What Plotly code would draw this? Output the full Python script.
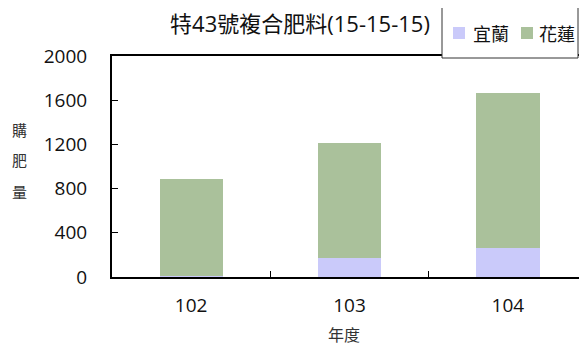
import plotly.graph_objects as go

years = ["102", "103", "104"]
yilan = [10, 176, 266]
hualien = [874, 1034, 1403]
y_ticks = [0, 400, 800, 1200, 1600, 2000]
y_title_chars = ["購", "肥", "量"]
series_names = ["宜蘭", "花蓮"]
series_colors = ["#cacafa", "#aac19b"]

FONT = "Open Sans, Noto Sans CJK TC"
CJK = "Noto Sans CJK TC"

# page body has an 8px margin; work in window pixels and convert
OFF = 8
WIN_W, WIN_H = 587, 346
W, H = WIN_W - OFF, WIN_H - OFF
PL, PT, PB = 112, 56, 277          # plot area edges in window pixels
L, T, B = PL - OFF, PT - OFF, WIN_H - PB
PW, PH = W - L, H - T - B


def px_x(x):
    return (x - PL) / PW


def px_y(y):
    return (PB - y) / PH


fig = go.Figure()
for name, vals, col in zip(series_names, [yilan, hualien], series_colors):
    fig.add_trace(go.Bar(name=name, x=years, y=vals, width=0.4, showlegend=False,
                         marker=dict(color=col, line=dict(width=0))))

fig.update_layout(
    barmode="stack",
    width=W, height=H,
    margin=dict(l=L, r=0, t=T, b=B, autoexpand=False),
    paper_bgcolor="white", plot_bgcolor="white",
    font=dict(family=FONT, size=18, color="#111"),
    title=dict(text="特43號複合肥料(15-15-15)", x=(300 - OFF) / W, xanchor="center",
               y=1 - (24 - OFF) / H, yanchor="middle",
               font=dict(size=22, family=FONT, color="#111")),
    showlegend=False,
)
fig.update_xaxes(type="category", range=[-0.5, 2.5], showline=True, linecolor="black",
                 linewidth=2, mirror=True, ticks="inside", tickson="boundaries",
                 ticklen=6, tickcolor="black", showgrid=False, automargin=False,
                 ticklabelstandoff=10, tickfont=dict(size=19, family="Open Sans"))
fig.update_yaxes(range=[0, 2000], tickvals=y_ticks, showline=True, linecolor="black",
                 linewidth=2, ticks="inside", ticklen=6, tickcolor="black",
                 showgrid=False, zeroline=False, automargin=False,
                 ticklabelstandoff=19, tickfont=dict(size=19, family="Open Sans"))

# legend box (drawn as shapes + text so it matches the reference layout)
fig.add_shape(type="rect", xref="paper", yref="paper",
              x0=px_x(442), x1=px_x(578), y0=px_y(58), y1=px_y(5),
              line=dict(color="#333", width=1), fillcolor="white", layer="above")
for name, col, sx, tx in zip(series_names, series_colors, [453, 521], [471, 537]):
    fig.add_shape(type="rect", xref="paper", yref="paper",
                  x0=px_x(sx), x1=px_x(sx + 12), y0=px_y(39), y1=px_y(27),
                  line=dict(width=0), fillcolor=col, layer="above")
    fig.add_annotation(text=name, xref="paper", yref="paper", x=px_x(tx), y=px_y(33),
                       xanchor="left", yanchor="middle", showarrow=False,
                       font=dict(size=18, family=CJK, color="#111"))

for ch, yc in zip(y_title_chars, [129, 159, 191]):
    fig.add_annotation(text=ch, xref="paper", yref="paper", x=px_x(19), y=px_y(yc),
                       xanchor="center", yanchor="middle", showarrow=False,
                       font=dict(size=15, family=CJK, color="#333"))
fig.add_annotation(text="年度", xref="paper", yref="paper", x=px_x(344), y=px_y(334),
                   xanchor="center", yanchor="middle", showarrow=False,
                   font=dict(size=16, family=CJK, color="#333"))
fig.write_html("out.html")
